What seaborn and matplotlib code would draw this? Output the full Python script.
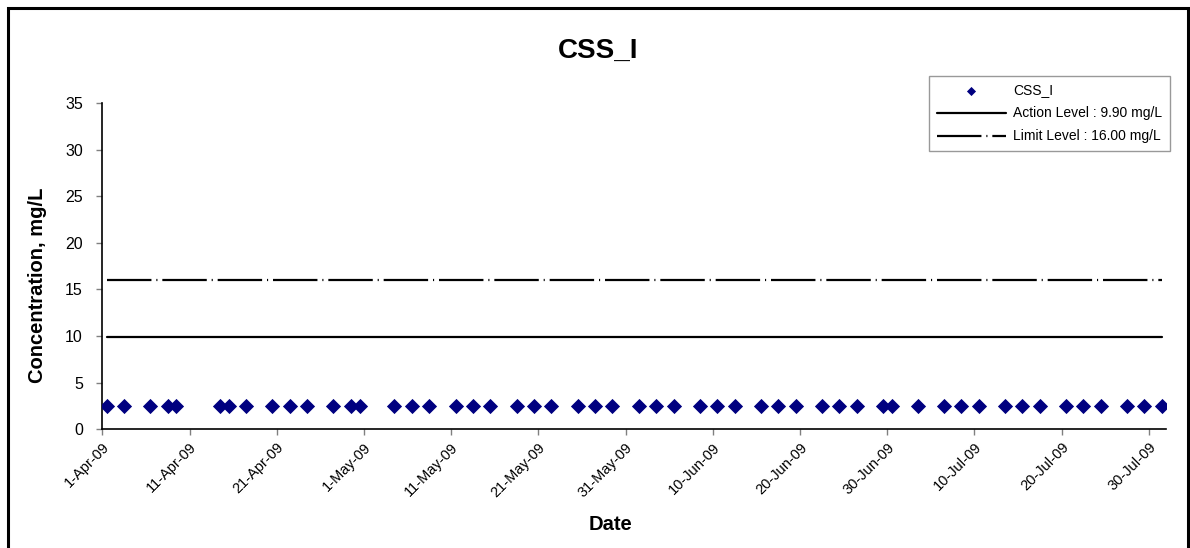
import pandas as pd
import matplotlib.pyplot as plt
from matplotlib.patches import Rectangle
import seaborn as sns

sns.set_style("white")
plt.rcParams["font.family"] = ["Liberation Sans", "DejaVu Sans"]
plt.rcParams["text.color"] = "black"
plt.rcParams["axes.labelcolor"] = "black"
plt.rcParams["xtick.color"] = "black"
plt.rcParams["ytick.color"] = "black"

# sample dates (2009) and measured concentrations
dates = ["2009-04-01", "2009-04-03", "2009-04-06", "2009-04-08", "2009-04-09",
         "2009-04-14", "2009-04-15", "2009-04-17", "2009-04-20", "2009-04-22",
         "2009-04-24", "2009-04-27", "2009-04-29", "2009-04-30", "2009-05-04",
         "2009-05-06", "2009-05-08", "2009-05-11", "2009-05-13", "2009-05-15",
         "2009-05-18", "2009-05-20", "2009-05-22", "2009-05-25", "2009-05-27",
         "2009-05-29", "2009-06-01", "2009-06-03", "2009-06-05", "2009-06-08",
         "2009-06-10", "2009-06-12", "2009-06-15", "2009-06-17", "2009-06-19",
         "2009-06-22", "2009-06-24", "2009-06-26", "2009-06-29", "2009-06-30",
         "2009-07-03", "2009-07-06", "2009-07-08", "2009-07-10", "2009-07-13",
         "2009-07-15", "2009-07-17", "2009-07-20", "2009-07-22", "2009-07-24",
         "2009-07-27", "2009-07-29", "2009-07-31"]
css_i = [2.5] * len(dates)
action_level = 9.90
limit_level = 16.00

tick_dates = ["2009-04-01", "2009-04-11", "2009-04-21", "2009-05-01", "2009-05-11",
              "2009-05-21", "2009-05-31", "2009-06-10", "2009-06-20", "2009-06-30",
              "2009-07-10", "2009-07-20", "2009-07-30"]
tick_labels = ["1-Apr-09", "11-Apr-09", "21-Apr-09", "1-May-09", "11-May-09",
               "21-May-09", "31-May-09", "10-Jun-09", "20-Jun-09", "30-Jun-09",
               "10-Jul-09", "20-Jul-09", "30-Jul-09"]

df = pd.DataFrame({"Date": pd.to_datetime(dates) + pd.Timedelta(hours=12),
                   "CSS_I": css_i})
df["Action"] = action_level
df["Limit"] = limit_level

fig = plt.figure(figsize=(11.9, 5.48), dpi=100)
ax = fig.add_axes([0.086, 0.217, 0.894, 0.595])

sns.scatterplot(data=df, x="Date", y="CSS_I", marker="D", s=60, color="#000080",
                edgecolor="#000080", linewidth=0, ax=ax, label="CSS_I", zorder=3)
sns.lineplot(data=df, x="Date", y="Action", color="black", linewidth=1.6, ax=ax,
             label="Action Level : 9.90 mg/L")
sns.lineplot(data=df, x="Date", y="Limit", color="black", linewidth=1.6, ax=ax,
             linestyle=(0, (20, 2.2, 0.5, 2.2)), label="Limit Level : 16.00 mg/L")

ax.set_xlim(pd.Timestamp("2009-04-01"), pd.Timestamp("2009-08-01"))
ax.set_ylim(0, 35)
ax.set_yticks(range(0, 36, 5))
ax.set_xticks(pd.to_datetime(tick_dates))
ax.set_xticklabels(tick_labels, rotation=45, ha="right", rotation_mode="anchor")
ax.tick_params(axis="x", labelsize=10.5, direction="out", length=4, width=1,
               color="#808080", bottom=True, pad=4)
ax.tick_params(axis="y", labelsize=11.5, direction="out", length=4, width=1,
               color="#808080", left=True, pad=10)
for lab in ax.get_xticklabels():
    lab.set_va("top")

sns.despine(ax=ax)
for s in ["left", "bottom"]:
    ax.spines[s].set_color("black")
    ax.spines[s].set_linewidth(1.2)

ax.set_xlabel("Date", fontsize=14.5, fontweight="bold")
ax.set_ylabel("Concentration, mg/L", fontsize=14.5, fontweight="bold")
ax.xaxis.set_label_coords(0.478, -0.265)
ax.yaxis.set_label_coords(-0.052, 0.44)

fig.text(0.503, 0.907, "CSS_I", fontsize=20, fontweight="bold",
         ha="center", va="center")

leg = ax.legend(loc="upper right", bbox_to_anchor=(1.01, 1.105), fontsize=10,
                frameon=True, fancybox=False, edgecolor="#808080",
                handlelength=5.0, handletextpad=0.5, markerscale=0.6,
                borderpad=0.55, labelspacing=0.65)
leg.get_frame().set_linewidth(1)

fig.patches.append(Rectangle((0.007, -0.02), 0.991, 1.006, transform=fig.transFigure,
                             fill=False, edgecolor="black", linewidth=2.2))

fig.savefig("out.png", dpi=100)
